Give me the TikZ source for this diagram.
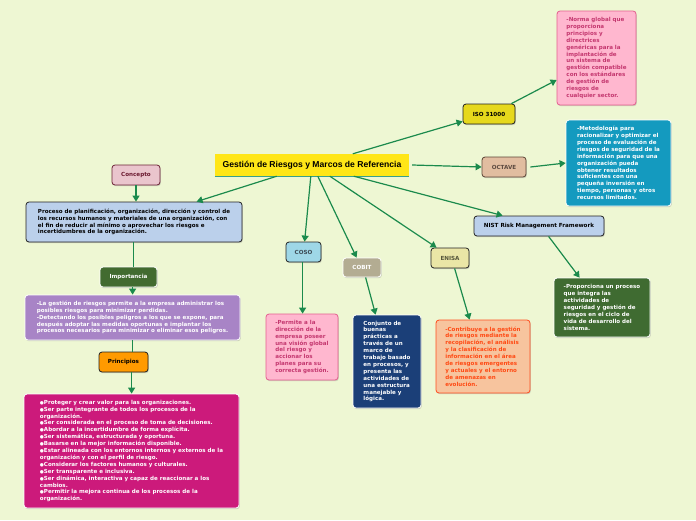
\documentclass[tikz,border=0pt]{standalone}
\usepackage{fontspec}
\setmainfont{DejaVu Sans}
\newfontfamily\titlefont{Liberation Sans}
\usetikzlibrary{arrows.meta,shadows}
\definecolor{bgc}{HTML}{EEF7D3}
\definecolor{arr}{HTML}{1B8A4C}
\definecolor{titlefill}{HTML}{FFE617}
\definecolor{titleline}{HTML}{3AA08A}
\definecolor{concfill}{HTML}{EAC5CD}
\definecolor{concdraw}{HTML}{6B2236}
\definecolor{conctext}{HTML}{6B1A30}
\definecolor{lblue}{HTML}{BBD0EB}
\definecolor{darkb}{HTML}{222222}
\definecolor{impfill}{HTML}{426B30}
\definecolor{purp}{HTML}{A884C6}
\definecolor{orng}{HTML}{FF9A00}
\definecolor{magn}{HTML}{CC1A7B}
\definecolor{cosofill}{HTML}{9ED7E7}
\definecolor{cosotext}{HTML}{3C4B55}
\definecolor{pinkfill}{HTML}{FFB7CF}
\definecolor{pinkdraw}{HTML}{E3608F}
\definecolor{pinktext}{HTML}{C4376F}
\definecolor{cobitfill}{HTML}{B3AC92}
\definecolor{cobitbox}{HTML}{1B3F78}
\definecolor{enisafill}{HTML}{EAE6A6}
\definecolor{enisatext}{HTML}{55553A}
\definecolor{enisabfill}{HTML}{F7C49E}
\definecolor{enisabdraw}{HTML}{FF4D1F}
\definecolor{enisabtext}{HTML}{FF4A14}
\definecolor{nistbox}{HTML}{3F6B31}
\definecolor{isofill}{HTML}{E6D81C}
\definecolor{octfill}{HTML}{E1BDA0}
\definecolor{octdraw}{HTML}{5C4535}
\definecolor{octtext}{HTML}{5C4A40}
\definecolor{octbox}{HTML}{149ABF}
\newcommand{\bodyfnt}{\fontsize{5.55}{6.9}\selectfont\bfseries}
\newcommand{\lblfnt}{\fontsize{5.6}{6.9}\selectfont\bfseries}
\newcommand{\bul}{{\fontsize{4.6}{6.9}\selectfont ●}}
\tikzset{
  boxbase/.style={rounded corners=3pt, line width=0.8pt, inner sep=0pt, align=left,
    drop shadow={shadow xshift=0.8pt, shadow yshift=-1.2pt, opacity=0.3}},
  txtbox/.style={boxbase, font=\bodyfnt},
  lblbox/.style={boxbase, font=\lblfnt},
  conn/.style={arr, line width=1.2pt, -{Triangle[width=7pt,length=6pt]}},
  plainconn/.style={arr, line width=1.2pt},
}
\begin{document}
\begin{tikzpicture}[x=1pt,y=-1pt]
\useasboundingbox (0,0) rectangle (696,520);
\fill[bgc] (0,0) rectangle (696,520);

% title
\node[fill=titlefill, minimum width=194pt, minimum height=22pt, inner sep=0pt,
  font=\titlefont\fontsize{8.6}{10}\selectfont\bfseries] (title) at (312,165) {Gestión de Riesgos y Marcos de Referencia};
\draw[titleline, line width=1pt] (title.south west) -- (title.south east);

% left column
\node[lblbox, fill=concfill, draw=concdraw, text=conctext, minimum width=48pt, minimum height=20pt] (concepto) at (136,175) {Concepto};
\node[txtbox, fill=lblue, draw=darkb, text=black, minimum width=216pt, minimum height=40pt] (conceptobox) at (134,222) {Proceso de planificación, organización, dirección y control de\\los recursos humanos y materiales de una organización, con\\el fin de reducir al mínimo o aprovechar los riesgos e\\incertidumbres de la organización.};
\node[lblbox, fill=impfill, draw=white, text=white, minimum width=57pt, minimum height=20pt] (importancia) at (128.5,277) {Importancia};
\node[txtbox, fill=purp, draw=white, text=white, minimum width=215pt, minimum height=45pt] (impbox) at (132.5,317.5) {-La gestión de riesgos permite a la empresa administrar los\\posibles riesgos para minimizar perdidas.\\-Detectando los posibles peligros a los que se expone, para\\después adoptar las medidas oportunas e implantar los\\procesos necesarios para minimizar o eliminar esos peligros.};
\node[lblbox, fill=orng, draw=darkb, text=black, minimum width=49pt, minimum height=20pt] (principios) at (123.5,362) {Principios};
\node[txtbox, fill=magn, draw=white, text=white, minimum width=215pt, minimum height=114pt] (princbox) at (131.5,451) {\bul Proteger y crear valor para las organizaciones.\\\bul Ser parte integrante de todos los procesos de la\\organización.\\\bul Ser considerada en el proceso de toma de decisiones.\\\bul Abordar a la incertidumbre de forma explícita.\\\bul Ser sistemática, estructurada y oportuna.\\\bul Basarse en la mejor información disponible.\\\bul Estar alineada con los entornos internos y externos de la\\organización y con el perfil de riesgo.\\\bul Considerar los factores humanos y culturales.\\\bul Ser transparente e inclusiva.\\\bul Ser dinámica, interactiva y capaz de reaccionar a los\\cambios.\\\bul Permitir la mejora continua de los procesos de la\\organización.};

% middle
\node[lblbox, fill=cosofill, draw=darkb, text=cosotext, minimum width=35pt, minimum height=20pt] (coso) at (303.5,252) {COSO};
\node[txtbox, fill=pinkfill, draw=pinkdraw, text=pinktext, minimum width=72pt, minimum height=66pt] (cosobox) at (302,347) {-Permite a la\\dirección de la\\empresa poseer\\una visión global\\del riesgo y\\accionar los\\planes para su\\correcta gestión.};
\node[lblbox, fill=cobitfill, draw=white, text=white, minimum width=38pt, minimum height=19pt] (cobit) at (362,267.5) {COBIT};
\node[txtbox, fill=cobitbox, draw=white, text=white, minimum width=68pt, minimum height=93pt] (cobitbx) at (387,361.5) {Conjunto de\\buenas\\prácticas a\\través de un\\marco de\\trabajo basado\\en procesos, y\\presenta las\\actividades de\\una estructura\\manejable y\\lógica.};
\node[lblbox, fill=enisafill, draw=darkb, text=enisatext, minimum width=38pt, minimum height=20pt] (enisa) at (450,258) {ENISA};
\node[txtbox, fill=enisabfill, draw=enisabdraw, text=enisabtext, minimum width=94pt, minimum height=73pt] (enisabox) at (483,356.5) {-Contribuye a la gestión\\de riesgos mediante la\\recopilación, el análisis\\y la clasificación de\\información en el área\\de riesgos emergentes\\y actuales y el entorno\\de amenazas en\\evolución.};

% right
\node[lblbox, fill=lblue, draw=darkb, text=black, minimum width=130pt, minimum height=20pt] (nist) at (539,226) {NIST Risk Management Framework};
\node[txtbox, fill=nistbox, draw=white, text=white, minimum width=96pt, minimum height=59pt] (nistbx) at (602,307.5) {-Proporciona un proceso\\que integra las\\actividades de\\seguridad y gestión de\\riesgos en el ciclo de\\vida de desarrollo del\\sistema.};
\node[lblbox, fill=isofill, draw=darkb, text=black, minimum width=52pt, minimum height=20pt] (iso) at (489,114) {ISO 31000};
\node[txtbox, fill=pinkfill, draw=pinkdraw, text=pinktext, minimum width=79pt, minimum height=94pt] (isobox) at (596.5,58) {-Norma global que\\proporciona\\principios y\\directrices\\genéricas para la\\implantación de\\un sistema de\\gestión compatible\\con los estándares\\de gestión de\\riesgos de\\cualquier sector.};
\node[lblbox, fill=octfill, draw=octdraw, text=octtext, minimum width=44pt, minimum height=20pt] (octave) at (504,167) {OCTAVE};
\node[txtbox, fill=octbox, draw=white, text=white, minimum width=105pt, minimum height=86pt] (octavebox) at (618.5,163) {-Metodología para\\racionalizar y optimizar el\\proceso de evaluación de\\riesgos de seguridad de la\\información para que una\\organización pueda\\obtener resultados\\suficientes con una\\pequeña inversión en\\tiempo, personas y otros\\recursos limitados.};

% connectors
\draw[conn] ([xshift=62pt]title.south west) -- ([xshift=171pt]conceptobox.north west);
\draw[conn] (concepto.south) -- (concepto.south |- conceptobox.north);
\draw[plainconn] ([xshift=108pt]conceptobox.south west) -- ([xshift=34pt]importancia.north west);
\draw[conn] ([xshift=33pt]importancia.south west) -- ([xshift=108pt]impbox.north west);
\draw[plainconn] ([xshift=108pt]impbox.south west) -- ([xshift=34pt]principios.north west);
\draw[conn] ([xshift=33pt]principios.south west) -- ([xshift=108pt]princbox.north west);
\draw[conn] ([xshift=96pt]title.south west) -- ([xshift=19pt]coso.north west);
\draw[conn] ([xshift=17pt]coso.south west) -- ([xshift=37pt]cosobox.north west);
\draw[conn] ([xshift=103pt]title.south west) -- ([xshift=14pt]cobit.north west);
\draw[conn] ([xshift=23pt]cobit.south west) -- ([xshift=23pt]cobitbx.north west);
\draw[conn] ([xshift=115pt]title.south west) -- ([xshift=6pt]enisa.north west);
\draw[conn] ([xshift=24pt]enisa.south west) -- ([xshift=34pt]enisabox.north west);
\draw[conn] ([xshift=139pt]title.south west) -- ([xshift=29pt]nist.north west);
\draw[conn] ([xshift=75pt]nist.south west) -- ([xshift=26pt]nistbx.north west);
\draw[conn] ([xshift=138pt]title.north west) -- ([yshift=3pt]iso.south west);
\draw[conn] ([xshift=-4pt]iso.north east) -- ([yshift=-22pt]isobox.west);
\draw[conn] ([xshift=3pt]title.east) -- (octave.west);
\draw[conn] ([xshift=4pt]octave.east) -- (octavebox.west);
\end{tikzpicture}
\end{document}
